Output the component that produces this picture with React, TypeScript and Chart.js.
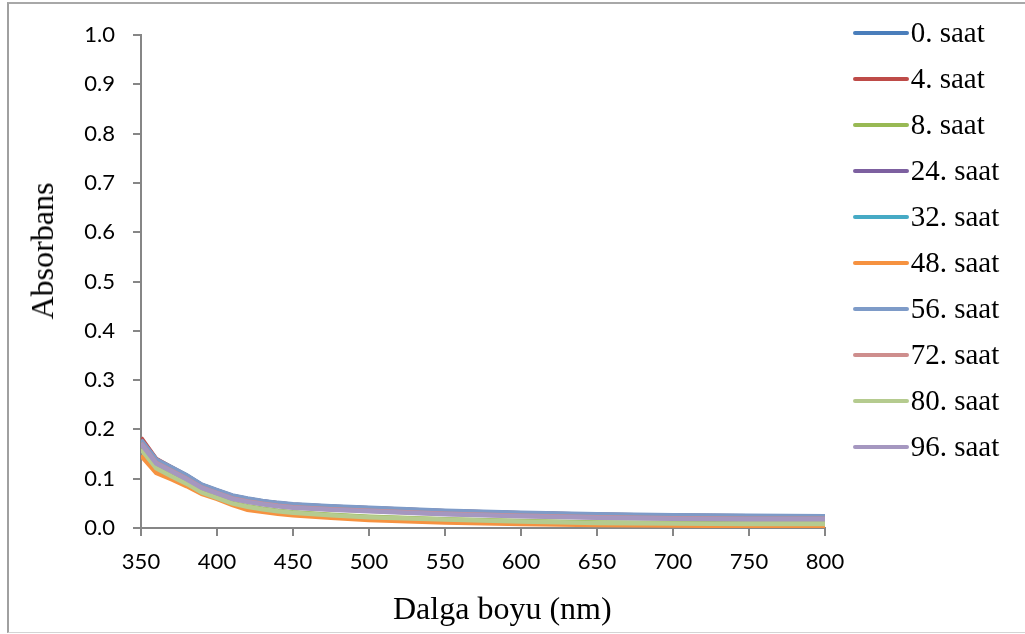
import React, { useEffect, useRef } from "react";
import { Chart, registerables } from "chart.js";

Chart.register(...registerables);

// Wavelengths (nm)
const wavelengths = [350, 360, 370, 380, 390, 400, 410, 420, 430, 440, 450, 475, 500, 550, 600, 650, 700, 750, 800];

const seriesNames = ["0. saat", "4. saat", "8. saat", "24. saat", "32. saat", "48. saat", "56. saat", "72. saat", "80. saat", "96. saat"];
const seriesColors = ["#4A7EBB", "#BE4B48", "#98B954", "#7D60A0", "#46AAC5", "#F69240", "#7E9BC8", "#CE8E8D", "#B5CB8F", "#A597C0"];

const s0 = [0.178, 0.138, 0.122, 0.106, 0.087, 0.076, 0.065, 0.059, 0.054, 0.050, 0.047, 0.043, 0.040, 0.034, 0.030, 0.027, 0.025, 0.024, 0.023];
const s4 = [0.183, 0.140, 0.123, 0.106, 0.087, 0.076, 0.065, 0.059, 0.054, 0.050, 0.047, 0.043, 0.040, 0.034, 0.030, 0.027, 0.025, 0.024, 0.023];
const s8 = [0.161, 0.122, 0.106, 0.091, 0.073, 0.062, 0.051, 0.044, 0.039, 0.035, 0.032, 0.027, 0.023, 0.018, 0.014, 0.011, 0.010, 0.009, 0.009];
const s24 = [0.173, 0.133, 0.117, 0.101, 0.083, 0.072, 0.061, 0.055, 0.050, 0.046, 0.043, 0.039, 0.036, 0.030, 0.026, 0.023, 0.021, 0.020, 0.020];
const s32 = [0.176, 0.136, 0.120, 0.104, 0.085, 0.074, 0.063, 0.057, 0.052, 0.048, 0.045, 0.041, 0.038, 0.032, 0.028, 0.025, 0.023, 0.022, 0.022];
const s48 = [0.147, 0.112, 0.099, 0.085, 0.069, 0.059, 0.047, 0.037, 0.033, 0.029, 0.026, 0.021, 0.016, 0.011, 0.008, 0.006, 0.005, 0.004, 0.004];
const s56 = [0.179, 0.139, 0.123, 0.107, 0.088, 0.077, 0.066, 0.060, 0.055, 0.051, 0.048, 0.044, 0.041, 0.035, 0.031, 0.028, 0.026, 0.025, 0.024];
const s72 = [0.172, 0.132, 0.116, 0.100, 0.082, 0.071, 0.060, 0.054, 0.049, 0.045, 0.042, 0.038, 0.035, 0.029, 0.025, 0.022, 0.020, 0.019, 0.019];
const s80 = [0.160, 0.121, 0.105, 0.090, 0.072, 0.061, 0.050, 0.043, 0.038, 0.034, 0.031, 0.026, 0.022, 0.017, 0.013, 0.010, 0.009, 0.008, 0.008];
const s96 = [0.171, 0.131, 0.115, 0.099, 0.081, 0.070, 0.059, 0.053, 0.048, 0.044, 0.041, 0.037, 0.034, 0.028, 0.024, 0.021, 0.019, 0.018, 0.018];

const seriesValues = [s0, s4, s8, s24, s32, s48, s56, s72, s80, s96];

const yTitle = "Absorbans";
const xTitle = "Dalga boyu (nm)";

export default function App() {
  const canvasRef = useRef<HTMLCanvasElement | null>(null);

  useEffect(() => {
    const canvas = canvasRef.current;
    if (!canvas) return;
    const axisColor = "#868686";
    const tickFont = { family: "Lato", size: 22 };
    const chart = new Chart(canvas, {
      type: "line",
      data: {
        datasets: seriesValues.map((vals, i) => ({
          label: seriesNames[i],
          data: vals.map((v, j) => ({ x: wavelengths[j], y: v })),
          borderColor: seriesColors[i],
          backgroundColor: seriesColors[i],
          borderWidth: 4.5,
          pointRadius: 0,
          tension: 0,
          fill: false,
          order: 9 - i,
        })),
      },
      options: {
        animation: false,
        responsive: false,
        devicePixelRatio: 1,
        layout: { padding: { left: 0, right: 200, top: 35, bottom: 0 } },
        plugins: { legend: { display: false }, tooltip: { enabled: false } },
        scales: {
          x: {
            type: "linear",
            min: 350,
            max: 800,
            afterFit: (scale: any) => {
              scale.height = 106;
            },
            ticks: { stepSize: 50, color: "#000", font: tickFont, padding: 13, maxRotation: 0 },
            grid: { display: true, drawOnChartArea: false, drawTicks: true, tickLength: 8, color: axisColor, lineWidth: 2 },
            border: { display: true, color: axisColor, width: 2 },
          },
          y: {
            type: "linear",
            min: 0,
            max: 1,
            afterFit: (scale: any) => {
              scale.width = 141;
            },
            ticks: {
              stepSize: 0.1,
              color: "#000",
              font: tickFont,
              padding: 18,
              callback: (v: any) => Number(v).toFixed(1),
            },
            grid: { display: true, drawOnChartArea: false, drawTicks: true, tickLength: 8, color: axisColor, lineWidth: 2 },
            border: { display: true, color: axisColor, width: 2 },
          },
        },
      },
    });
    return () => chart.destroy();
  }, []);

  const serif = '"Liberation Serif", "Times New Roman", serif';

  return (
    <div style={{ position: "fixed", left: 0, top: 0, width: 1025, height: 634, overflow: "hidden", background: "#fff" }}>
      <div
        style={{
          position: "absolute",
          left: 7,
          top: 2,
          width: 1100,
          height: 631,
          boxSizing: "border-box",
          borderLeft: "2px solid #a0a0a0",
          borderTop: "2px solid #a8a8a8",
          borderBottom: "1px solid #d4d4d4",
        }}
      />
      <canvas ref={canvasRef} width={1025} height={634} style={{ position: "absolute", left: 0, top: 0, width: 1025, height: 634 }} />
      <div
        style={{
          position: "absolute",
          left: 41.7,
          top: 251,
          transform: "translate(-50%, -50%) rotate(-90deg)",
          fontFamily: serif,
          fontSize: 32,
          lineHeight: "32px",
          whiteSpace: "nowrap",
          color: "#000",
        }}
      >
        {yTitle}
      </div>
      <div
        style={{
          position: "absolute",
          left: 393,
          top: 592.4,
          fontFamily: serif,
          fontSize: 32,
          lineHeight: "32px",
          whiteSpace: "nowrap",
          color: "#000",
        }}
      >
        {xTitle}
      </div>
      {seriesNames.map((name, i) => (
        <React.Fragment key={name}>
          <div
            style={{
              position: "absolute",
              left: 853,
              top: 30.6 + 46 * i,
              width: 55.5,
              height: 4.3,
              borderRadius: 2.2,
              background: seriesColors[i],
            }}
          />
          <div
            style={{
              position: "absolute",
              left: 910.7,
              top: 18.4 + 46 * i,
              fontFamily: serif,
              fontSize: 29,
              lineHeight: "29px",
              whiteSpace: "nowrap",
              color: "#000",
            }}
          >
            {name}
          </div>
        </React.Fragment>
      ))}
    </div>
  );
}
